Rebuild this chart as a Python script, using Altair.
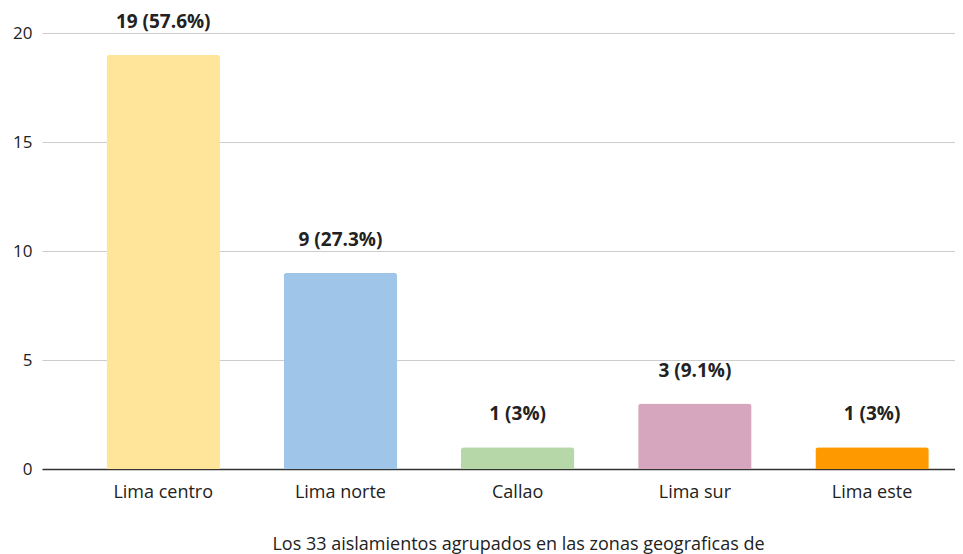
import altair as alt
import pandas as pd

zones = ["Lima centro", "Lima norte", "Callao", "Lima sur", "Lima este"]
counts = [19, 9, 1, 3, 1]
labels = ["19 (57.6%)", "9 (27.3%)", "1 (3%)", "3 (9.1%)", "1 (3%)"]
colors = ["#ffe599", "#9fc5e8", "#b6d7a8", "#d5a6bd", "#ff9900"]

df = pd.DataFrame({"zona": zones, "n": counts, "label": labels})

FONT = "Open Sans"

x = alt.X(
    "zona:N",
    sort=zones,
    scale=alt.Scale(paddingInner=0.36, paddingOuter=0.256, align=0.711),
    axis=alt.Axis(
        title="Los 33 aislamientos agrupados en las zonas geograficas de",
        labelAngle=0,
        labelFont=FONT,
        labelFontSize=18,
        labelColor="#222222",
        labelPadding=14,
        ticks=False,
        domain=True,
        domainColor="#333333",
        domainWidth=1.5,
        titleFont=FONT,
        titleFontSize=18,
        titleFontWeight="normal",
        titleColor="#222222",
        titlePadding=34,
        titleX=476,
        titleAnchor="middle",
        grid=False,
    ),
)

y = alt.Y(
    "n:Q",
    scale=alt.Scale(domain=[0, 20], nice=False),
    axis=alt.Axis(
        title=None,
        values=[0, 5, 10, 15, 20],
        labelFont=FONT,
        labelFontSize=17,
        labelColor="#222222",
        labelPadding=10,
        ticks=False,
        domain=False,
        grid=True,
        gridColor="#cccccc",
        gridWidth=1,
    ),
)

bars = alt.Chart(df).mark_bar(cornerRadiusTopLeft=3, cornerRadiusTopRight=3).encode(
    x=x,
    y=y,
    color=alt.Color("zona:N", scale=alt.Scale(domain=zones, range=colors), legend=None),
)

text = alt.Chart(df).mark_text(
    font=FONT, fontSize=19, fontWeight="bold", color="#222222", dy=-33, baseline="middle"
).encode(
    x=alt.X("zona:N", sort=zones),
    y=alt.Y("n:Q"),
    text="label:N",
)

chart = (
    alt.layer(bars, text)
    .properties(
        width=913,
        height=436,
        autosize=alt.AutoSizeParams(type="none"),
        padding={"left": 34, "top": 25, "right": 0, "bottom": 85},
    )
    .configure_view(stroke=None)
)

chart.save("out.html", embed_options={"renderer": "svg", "actions": False})
